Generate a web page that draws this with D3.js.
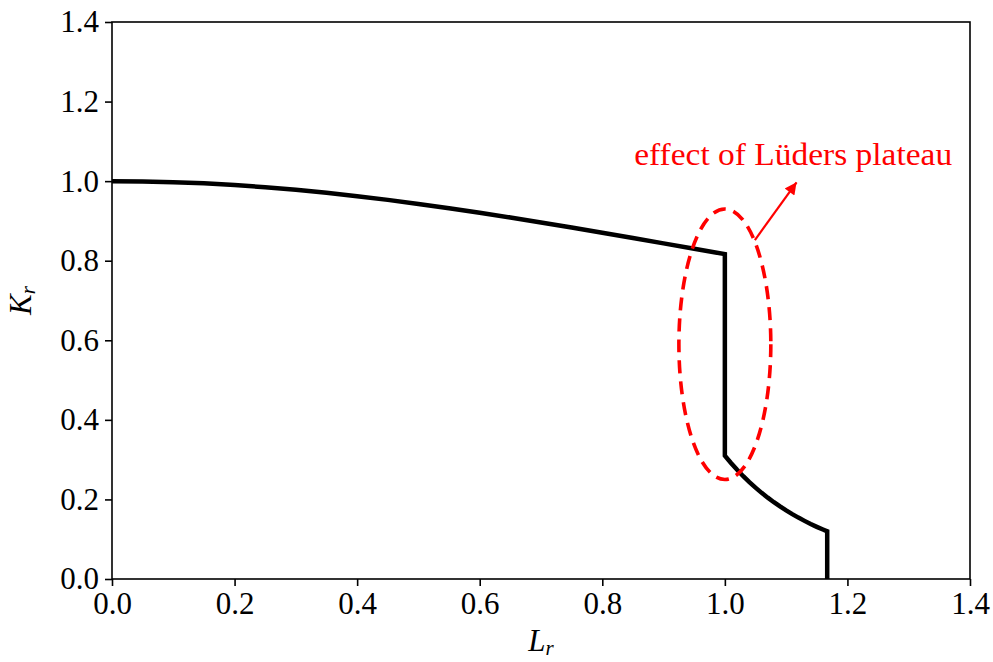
<!DOCTYPE html>
<html>
<head>
<meta charset="utf-8">
<script src="https://cdn.jsdelivr.net/npm/d3@7"></script>
<style>
  html, body { margin: 0; padding: 0; background: #fff; }
  svg { display: block; }
  text { font-family: "Liberation Serif", "DejaVu Serif", serif; }
</style>
</head>
<body>
<svg id="chart" width="993" height="662"></svg>
<script>
// Failure assessment curve with a Lüders plateau (Lr vs Kr)
const lrValues = [0, 0.05, 0.1, 0.15, 0.2, 0.25, 0.3, 0.35, 0.4, 0.45, 0.5, 0.55, 0.6, 0.65, 0.7, 0.75, 0.8, 0.85, 0.9, 0.95, 1.0,
  1.0, 1.01, 1.02, 1.03, 1.04, 1.05, 1.06, 1.07, 1.08, 1.09, 1.10, 1.11, 1.12, 1.13, 1.14, 1.15, 1.16, 1.167, 1.167];
const krValues = [1.0, 0.99938, 0.99751, 0.99442, 0.99015, 0.98473, 0.97823, 0.97071, 0.96225, 0.95292, 0.94281, 0.93200, 0.92057, 0.90863, 0.89622, 0.88345, 0.87039, 0.85710, 0.84366, 0.83010, 0.81650,
  0.3100, 0.2916, 0.2744, 0.2584, 0.2435, 0.2296, 0.2165, 0.2044, 0.1930, 0.1824, 0.1724, 0.1631, 0.1543, 0.1461, 0.1383, 0.1311, 0.1243, 0.1198, 0.0];

const xTicks = [0.0, 0.2, 0.4, 0.6, 0.8, 1.0, 1.2, 1.4];
const yTicks = [0.0, 0.2, 0.4, 0.6, 0.8, 1.0, 1.2, 1.4];

// Highlight ellipse (centre, width, height in data units) and arrow
const ellipseCenter = [1.0, 0.59];
const ellipseSize = [0.15, 0.68];
const arrowFrom = [1.049, 0.852];
const arrowTo = [1.117, 0.997];
const noteText = "effect of Lüders plateau";
const notePos = [1.1115, 1.04];

const margin = { left: 112, top: 22, right: 23, bottom: 83 };
const W = 993, H = 662;
const iw = W - margin.left - margin.right;
const ih = H - margin.top - margin.bottom;

const svg = d3.select("#chart");
const g = svg.append("g").attr("transform", `translate(${margin.left},${margin.top})`);

const x = d3.scaleLinear().domain([0, 1.4]).range([0, iw]);
const y = d3.scaleLinear().domain([0, 1.4]).range([ih, 0]);

const fontSize = 31;

// Axes
const xAxis = d3.axisBottom(x).tickValues(xTicks).tickFormat(d3.format(".1f")).tickSize(7).tickPadding(6);
const yAxis = d3.axisLeft(y).tickValues(yTicks).tickFormat(d3.format(".1f")).tickSize(7).tickPadding(6);

const gx = g.append("g").attr("transform", `translate(0,${ih})`).call(xAxis);
const gy = g.append("g").call(yAxis);
[gx, gy].forEach(a => {
  a.select(".domain").remove();
  a.selectAll(".tick line").attr("stroke", "#000").attr("stroke-width", 1.6);
  a.selectAll(".tick text").attr("font-size", fontSize).attr("fill", "#000")
    .style("font-family", '"Liberation Serif", serif');
});

// Frame
g.append("rect").attr("x", 0).attr("y", 0).attr("width", iw).attr("height", ih)
  .attr("fill", "none").attr("stroke", "#000").attr("stroke-width", 1.6);

// Curve
const pts = lrValues.map((v, i) => [v, krValues[i]]);
const line = d3.line().x(d => x(d[0])).y(d => y(d[1]));
g.append("path").datum(pts).attr("d", line)
  .attr("fill", "none").attr("stroke", "#000").attr("stroke-width", 4.5)
  .attr("stroke-linejoin", "miter");

// Dashed ellipse
g.append("ellipse")
  .attr("cx", x(ellipseCenter[0])).attr("cy", y(ellipseCenter[1]))
  .attr("rx", x(ellipseSize[0] / 2) - x(0)).attr("ry", y(0) - y(ellipseSize[1] / 2))
  .attr("fill", "none").attr("stroke", "#ff0000").attr("stroke-width", 3.6)
  .attr("stroke-dasharray", "13,8");

// Arrow
svg.append("defs").append("marker")
  .attr("id", "head").attr("viewBox", "0 0 10 10").attr("refX", 10).attr("refY", 5)
  .attr("markerWidth", 14).attr("markerHeight", 12).attr("markerUnits", "userSpaceOnUse")
  .attr("orient", "auto")
  .append("path").attr("d", "M0,0 L10,5 L0,10 Z").attr("fill", "#ff0000");

g.append("line")
  .attr("x1", x(arrowFrom[0])).attr("y1", y(arrowFrom[1]))
  .attr("x2", x(arrowTo[0])).attr("y2", y(arrowTo[1]))
  .attr("stroke", "#ff0000").attr("stroke-width", 2.2)
  .attr("marker-end", "url(#head)");

// Annotation
g.append("text")
  .attr("x", x(notePos[0])).attr("y", y(notePos[1]))
  .attr("text-anchor", "middle").attr("font-size", fontSize).attr("fill", "#ff0000")
  .attr("textLength", 318).attr("lengthAdjust", "spacingAndGlyphs")
  .text(noteText);

// Axis labels
const xl = svg.append("text")
  .attr("x", margin.left + iw / 2).attr("y", 651)
  .attr("text-anchor", "middle").attr("font-size", fontSize).attr("font-style", "italic");
xl.append("tspan").text("L");
xl.append("tspan").attr("font-size", 21).attr("dy", 4).text("r");

const yl = svg.append("text")
  .attr("transform", `translate(31,${margin.top + ih / 2}) rotate(-90)`)
  .attr("text-anchor", "middle").attr("font-size", fontSize).attr("font-style", "italic");
yl.append("tspan").text("K");
yl.append("tspan").attr("font-size", 21).attr("dy", 4).text("r");
</script>
</body>
</html>
